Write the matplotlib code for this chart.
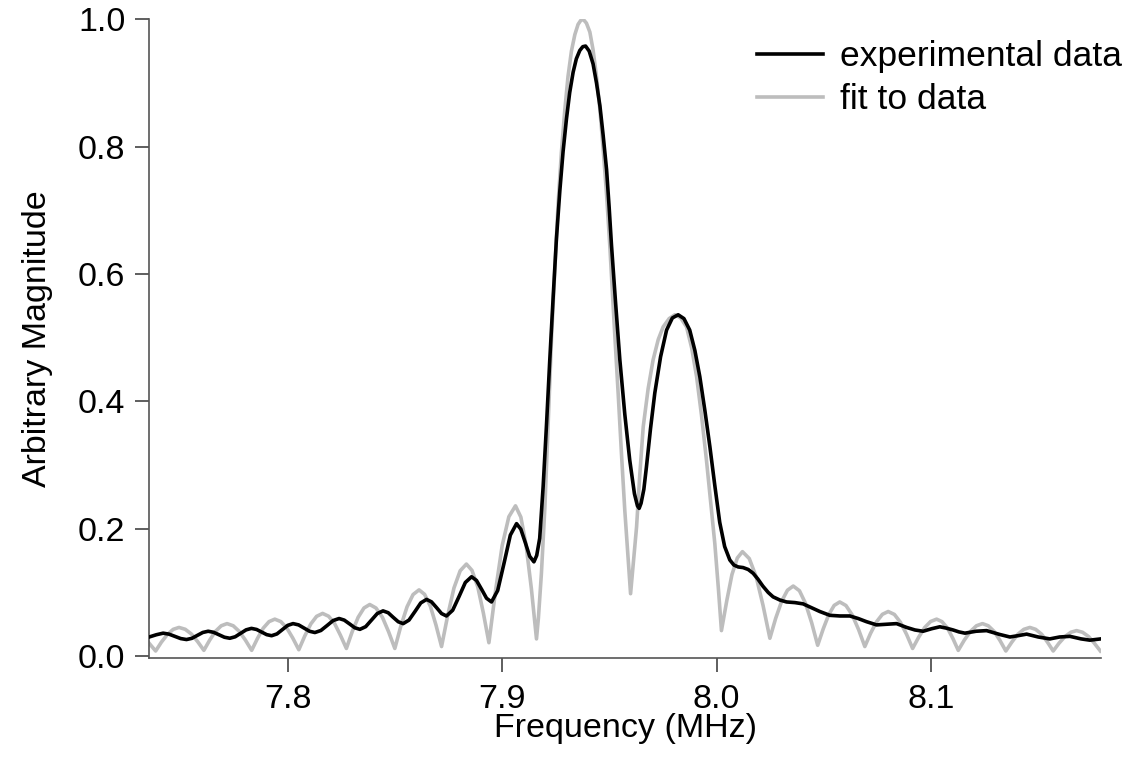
import numpy as np
import matplotlib
matplotlib.use("Agg")
import matplotlib.pyplot as plt

plt.rcParams['font.family'] = ['Liberation Sans', 'DejaVu Sans']

# experimental data (MHz, magnitude)
exp_freq = [7.7352, 7.7385, 7.7417, 7.7444, 7.7472, 7.7499, 7.7526, 7.7551, 7.7577, 7.7602,
            7.7627, 7.7652, 7.7678, 7.7703, 7.7728, 7.7753, 7.7779, 7.7804, 7.7829, 7.7853,
            7.7876, 7.7900, 7.7923, 7.7948, 7.7973, 7.7998, 7.8023, 7.8049, 7.8074, 7.8100,
            7.8125, 7.8153, 7.8182, 7.8210, 7.8238, 7.8262, 7.8287, 7.8311, 7.8335, 7.8362,
            7.8389, 7.8416, 7.8443, 7.8467, 7.8490, 7.8514, 7.8537, 7.8564, 7.8592, 7.8619,
            7.8646, 7.8669, 7.8693, 7.8716, 7.8739, 7.8768, 7.8798, 7.8827, 7.8856, 7.8879,
            7.8903, 7.8926, 7.8949, 7.8978, 7.9008, 7.9037, 7.9066, 7.9086, 7.9107, 7.9127,
            7.9147, 7.9160, 7.9174, 7.9190, 7.9206, 7.9221, 7.9237, 7.9252, 7.9268, 7.9283,
            7.9299, 7.9314, 7.9330, 7.9345, 7.9361, 7.9375, 7.9388, 7.9405, 7.9423, 7.9439,
            7.9455, 7.9470, 7.9486, 7.9498, 7.9509, 7.9528, 7.9548, 7.9571, 7.9594, 7.9616,
            7.9630, 7.9638, 7.9647, 7.9660, 7.9672, 7.9691, 7.9711, 7.9738, 7.9766, 7.9793,
            7.9820, 7.9847, 7.9874, 7.9898, 7.9921, 7.9945, 7.9968, 7.9991, 8.0014, 8.0037,
            8.0061, 8.0080, 8.0100, 8.0123, 8.0147, 8.0170, 8.0192, 8.0215, 8.0240, 8.0263,
            8.0295, 8.0326, 8.0365, 8.0403, 8.0442, 8.0481, 8.0528, 8.0575, 8.0621, 8.0660,
            8.0699, 8.0746, 8.0790, 8.0839, 8.0886, 8.0925, 8.0963, 8.1003, 8.1041, 8.1070,
            8.1103, 8.1130, 8.1158, 8.1210, 8.1259, 8.1290, 8.1320, 8.1368, 8.1405, 8.1446,
            8.1500, 8.1554, 8.1600, 8.1648, 8.1700, 8.1741, 8.1792]
exp_mag = [0.030, 0.0335, 0.036, 0.0345, 0.031, 0.0275, 0.026, 0.0279, 0.0325, 0.0371,
           0.039, 0.0374, 0.0335, 0.0296, 0.028, 0.0303, 0.0358, 0.0412, 0.0435, 0.0418,
           0.0378, 0.0337, 0.032, 0.0348, 0.0415, 0.0482, 0.051, 0.049, 0.044, 0.039,
           0.037, 0.0402, 0.048, 0.0558, 0.059, 0.0565, 0.0505, 0.0445, 0.042, 0.0462,
           0.0565, 0.0668, 0.071, 0.0681, 0.061, 0.0539, 0.051, 0.0565, 0.070, 0.0835,
           0.089, 0.0852, 0.076, 0.0668, 0.063, 0.072, 0.0938, 0.1156, 0.1246, 0.1188,
           0.1048, 0.0908, 0.085, 0.103, 0.1465, 0.190, 0.208, 0.1992, 0.178, 0.1568,
           0.148, 0.158, 0.185, 0.266, 0.365, 0.465, 0.565, 0.655, 0.731, 0.792,
           0.844, 0.885, 0.917, 0.938, 0.951, 0.957, 0.958, 0.950, 0.930, 0.900,
           0.864, 0.818, 0.764, 0.705, 0.645, 0.555, 0.465, 0.380, 0.308, 0.255,
           0.236, 0.232, 0.240, 0.262, 0.297, 0.357, 0.413, 0.470, 0.512, 0.531,
           0.536, 0.530, 0.512, 0.480, 0.439, 0.385, 0.329, 0.268, 0.210, 0.172,
           0.151, 0.143, 0.140, 0.139, 0.136, 0.130, 0.121, 0.110, 0.100, 0.093,
           0.088, 0.085, 0.084, 0.082, 0.076, 0.070, 0.064, 0.063, 0.063, 0.059,
           0.054, 0.049, 0.050, 0.051, 0.045, 0.041, 0.039, 0.043, 0.046, 0.044,
           0.041, 0.038, 0.036, 0.039, 0.040, 0.037, 0.034, 0.030, 0.032, 0.0345,
           0.030, 0.027, 0.030, 0.031, 0.027, 0.025, 0.027]

# fit
fit_freq = [7.7352, 7.7367, 7.7382, 7.7409, 7.7437, 7.7464, 7.7491, 7.7520, 7.7549, 7.7578,
            7.7607, 7.7634, 7.7661, 7.7688, 7.7715, 7.7744, 7.7772, 7.7801, 7.7830, 7.7857,
            7.7884, 7.7911, 7.7938, 7.7966, 7.7994, 7.8022, 7.8050, 7.8078, 7.8106, 7.8133,
            7.8161, 7.8189, 7.8217, 7.8244, 7.8272, 7.8299, 7.8327, 7.8354, 7.8381, 7.8410,
            7.8440, 7.8469, 7.8498, 7.8526, 7.8555, 7.8583, 7.8611, 7.8637, 7.8664, 7.8690,
            7.8716, 7.8745, 7.8774, 7.8803, 7.8832, 7.8858, 7.8885, 7.8911, 7.8937, 7.8968,
            7.8999, 7.9030, 7.9061, 7.9086, 7.9110, 7.9135, 7.9159, 7.9168, 7.9182, 7.9198,
            7.9213, 7.9229, 7.9245, 7.9260, 7.9275, 7.9291, 7.9306, 7.9322, 7.9338, 7.9353,
            7.9365, 7.9377, 7.9392, 7.9408, 7.9423, 7.9439, 7.9455, 7.9470, 7.9486, 7.9501,
            7.9520, 7.9540, 7.9556, 7.9571, 7.9585, 7.9598, 7.9612, 7.9626, 7.9641, 7.9657,
            7.9680, 7.9703, 7.9727, 7.9750, 7.9778, 7.9805, 7.9832, 7.9859, 7.9883, 7.9906,
            7.9929, 7.9952, 7.9972, 7.9991, 8.0008, 8.0022, 8.0047, 8.0071, 8.0096, 8.0120,
            8.0152, 8.0184, 8.0216, 8.0248, 8.0275, 8.0303, 8.0330, 8.0357, 8.0386, 8.0414,
            8.0443, 8.0471, 8.0497, 8.0523, 8.0548, 8.0574, 8.0603, 8.0632, 8.0662, 8.0691,
            8.0718, 8.0746, 8.0773, 8.0800, 8.0829, 8.0857, 8.0886, 8.0914, 8.0942, 8.0970,
            8.0998, 8.1026, 8.1051, 8.1077, 8.1102, 8.1127, 8.1155, 8.1184, 8.1212, 8.1240,
            8.1267, 8.1295, 8.1322, 8.1349, 8.1377, 8.1405, 8.1433, 8.1461, 8.1488, 8.1516,
            8.1543, 8.1570, 8.1597, 8.1625, 8.1652, 8.1679, 8.1707, 8.1735, 8.1762, 8.1790]
fit_mag = [0.020, 0.014, 0.008, 0.022, 0.034, 0.042, 0.045, 0.0421, 0.0346, 0.0227,
           0.009, 0.025, 0.0388, 0.0476, 0.051, 0.0476, 0.0388, 0.025, 0.009, 0.0276,
           0.0438, 0.0541, 0.058, 0.0542, 0.0441, 0.0282, 0.010, 0.0317, 0.0505, 0.0624,
           0.067, 0.0626, 0.0511, 0.0329, 0.012, 0.0382, 0.061, 0.0755, 0.081, 0.0755,
           0.061, 0.0382, 0.012, 0.047, 0.0773, 0.0966, 0.104, 0.0969, 0.0782, 0.0488,
           0.015, 0.0642, 0.107, 0.134, 0.1445, 0.1346, 0.1087, 0.0679, 0.021, 0.1027,
           0.1737, 0.2188, 0.236, 0.2183, 0.1754, 0.1064, 0.027, 0.060, 0.130, 0.233,
           0.360, 0.498, 0.610, 0.711, 0.790, 0.857, 0.910, 0.950, 0.976, 0.992,
           0.998, 1.000, 0.994, 0.980, 0.952, 0.910, 0.858, 0.797, 0.725, 0.645,
           0.530, 0.413, 0.315, 0.229, 0.160, 0.098, 0.150, 0.203, 0.285, 0.360,
           0.420, 0.465, 0.497, 0.517, 0.530, 0.536, 0.531, 0.517, 0.484, 0.439,
           0.378, 0.308, 0.240, 0.177, 0.105, 0.040, 0.0871, 0.128, 0.154, 0.164,
           0.1531, 0.1246, 0.0797, 0.028, 0.0592, 0.0862, 0.1034, 0.110, 0.1026, 0.083,
           0.0523, 0.017, 0.0428, 0.0653, 0.0796, 0.085, 0.0794, 0.0647, 0.0416, 0.015,
           0.0359, 0.054, 0.0656, 0.070, 0.0654, 0.0532, 0.034, 0.012, 0.0295, 0.0447,
           0.0543, 0.058, 0.0541, 0.0438, 0.0276, 0.009, 0.025, 0.0388, 0.0476, 0.051,
           0.0476, 0.0385, 0.0243, 0.008, 0.022, 0.0343, 0.042, 0.045, 0.042, 0.0343,
           0.022, 0.008, 0.0202, 0.0307, 0.0374, 0.040, 0.0374, 0.0307, 0.0202, 0.008]

fig = plt.figure(figsize=(11.32, 7.65), dpi=100)
ax = fig.add_axes([149/1132, 1 - 658/765, (1101 - 149)/1132, (658 - 19.3)/765])

ax.plot(fit_freq, fit_mag, color='#bdbdbd', lw=2.6, label='fit to data', zorder=2,
        solid_joinstyle='round')
ax.plot(exp_freq, exp_mag, color='black', lw=2.6, label='experimental data', zorder=3,
        solid_joinstyle='round')

ax.set_xlim(7.7351, 8.1793)
ax.set_ylim(-0.003, 1.0)
ax.set_xticks([7.8, 7.9, 8.0, 8.1])
ax.set_yticks([0.0, 0.2, 0.4, 0.6, 0.8, 1.0])
ax.xaxis.set_major_formatter(matplotlib.ticker.FormatStrFormatter('%.1f'))
ax.yaxis.set_major_formatter(matplotlib.ticker.FormatStrFormatter('%.1f'))

for s in ['top', 'right']:
    ax.spines[s].set_visible(False)
for s in ['left', 'bottom']:
    ax.spines[s].set_color('#555555')
    ax.spines[s].set_linewidth(1.2)
ax.tick_params(direction='out', length=10, width=1.1, color='#333333', labelsize=24.5)
ax.tick_params(axis='x', pad=9)
ax.tick_params(axis='y', pad=7)

ax.set_xlabel('Frequency (MHz)', fontsize=24.5, labelpad=-2)
ax.set_ylabel('Arbitrary Magnitude', fontsize=24.5, labelpad=18)

h, l = ax.get_legend_handles_labels()
fig.legend(h[::-1], l[::-1], loc='upper left', bbox_to_anchor=(757/1132, 1 - 40/765),
           frameon=False, fontsize=25.5, handlelength=1.86, handletextpad=0.48,
           labelspacing=0.28, borderpad=0, borderaxespad=0)

plt.savefig('out.png', dpi=100)
